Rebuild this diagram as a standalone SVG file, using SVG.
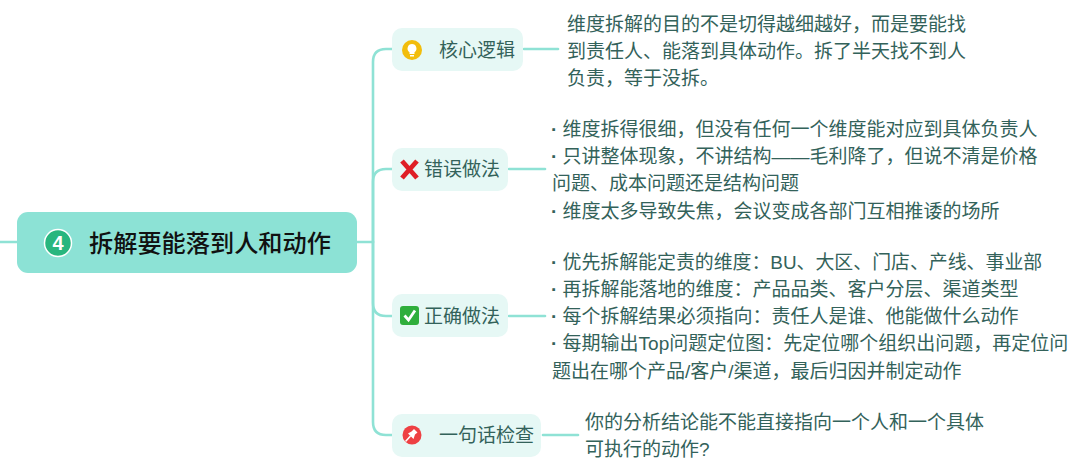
<svg xmlns="http://www.w3.org/2000/svg" width="1080" height="471" viewBox="0 0 1080 471">
<style>
text{font-family:"Liberation Sans","Noto Sans CJK SC",sans-serif}
.c{fill:none;stroke:#8fe2d5;stroke-width:2.6;stroke-linecap:round}
.b{fill:#e6f8f5}
.l{font-size:19px;fill:#33625a}
.d{font-size:19px;fill:#33625a}
.p{font-weight:700}
</style>
<rect width="1080" height="471" fill="#fff"/>
<g id="connectors">
<path class="c" d="M0 242H17"/>
<path class="c" d="M357 242H372"/>
<path class="c" d="M373 242V62Q373 49 386 49H393"/>
<path class="c" d="M373 242V182Q373 169 386 169H393"/>
<path class="c" d="M373 242V303Q373 316 386 316H393"/>
<path class="c" d="M373 242V422Q373 435 386 435H393"/>
<path class="c" d="M524 49H558"/>
<path class="c" d="M509 169H545"/>
<path class="c" d="M509 316H545"/>
<path class="c" d="M543 435H578"/>
</g>
<g id="root">
<rect x="17" y="212" width="340" height="61" rx="11" fill="#8ce2d5"/>
<circle cx="58" cy="243" r="13.5" fill="#28b67e" stroke="#fff" stroke-width="1.500"/>
<text x="58" y="250" font-size="20" font-weight="700" fill="#fff" text-anchor="middle">4</text>
<text x="89" y="252" font-size="24.200" font-weight="500" fill="#111">拆解要能落到人和动作</text>
</g>
<g id="n1">
<rect class="b" x="392" y="28" width="131" height="43" rx="10"/>
<circle cx="412" cy="50" r="10" fill="#f2bd0c"/>
<path d="M412 44a4.500 4.500 0 0 1 2.500 8.200V54h-5v-1.800A4.500 4.500 0 0 1 412 44z" fill="#fff"/>
<rect x="410" y="55" width="4" height="1.500" fill="#fff"/>
<text class="l" x="439" y="57">核心逻辑</text>
<text class="d" x="567" y="31">维度拆解的目的不是切得越细越好，而是要能找</text>
<text class="d" x="567" y="58">到责任人、能落到具体动作。拆了半天找不到人</text>
<text class="d" x="567" y="85">负责，等于没拆。</text>
</g>
<g id="n2">
<rect class="b" x="392" y="148" width="116" height="43" rx="10"/>
<path d="M402 161L417 178M417 161L402 178" stroke="#df1f26" stroke-width="4.800" fill="none"/>
<text class="l" x="424" y="176">错误做法</text>
<text class="d" x="551" y="136"><tspan class="p">·</tspan> 维度拆得很细，但没有任何一个维度能对应到具体负责人</text>
<text class="d" x="551" y="163"><tspan class="p">·</tspan> 只讲整体现象，不讲结构——毛利降了，但说不清是价格</text>
<text class="d" x="552" y="190">问题、成本问题还是结构问题</text>
<text class="d" x="551" y="218"><tspan class="p">·</tspan> 维度太多导致失焦，会议变成各部门互相推诿的场所</text>
</g>
<g id="n3">
<rect class="b" x="392" y="294" width="116" height="43" rx="10"/>
<rect x="400" y="306" width="19" height="19" rx="3" fill="#2fae3c"/>
<path d="M404.500 315.500L408.500 320L415 310.500" fill="none" stroke="#fff" stroke-width="2.800"/>
<text class="l" x="424" y="323">正确做法</text>
<text class="d" x="551" y="269" font-size="18.900" style="font-size:18.9px"><tspan class="p">·</tspan> 优先拆解能定责的维度：BU、大区、门店、产线、事业部</text>
<text class="d" x="551" y="296"><tspan class="p">·</tspan> 再拆解能落地的维度：产品品类、客户分层、渠道类型</text>
<text class="d" x="551" y="323"><tspan class="p">·</tspan> 每个拆解结果必须指向：责任人是谁、他能做什么动作</text>
<text class="d" x="551" y="350"><tspan class="p">·</tspan> 每期输出Top问题定位图：先定位哪个组织出问题，再定位问</text>
<text class="d" x="552" y="378">题出在哪个产品/客户/渠道，最后归因并制定动作</text>
</g>
<g id="n4">
<rect class="b" x="392" y="414" width="149" height="43" rx="10"/>
<circle cx="412" cy="435" r="9.500" fill="#ee4043"/>
<path d="M405.500 441.500L410.500 436" stroke="#fff" stroke-width="1.500" fill="none"/>
<path d="M408 433.500L413.500 439L415 434.500L417.500 432.500L414 429L411.500 431.500Z" fill="#fff"/>
<text class="l" x="439" y="442">一句话检查</text>
<text class="d" x="585" y="429">你的分析结论能不能直接指向一个人和一个具体</text>
<text class="d" x="585" y="456">可执行的动作?</text>
</g>
</svg>
